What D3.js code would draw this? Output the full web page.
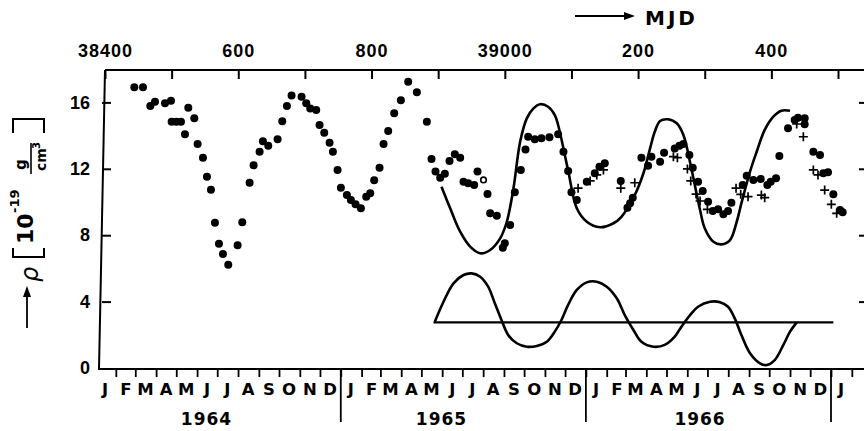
<!DOCTYPE html>
<html>
<head>
<meta charset="utf-8">
<script src="https://cdn.jsdelivr.net/npm/d3@7"></script>
<style>
	body { margin: 0; background: #fff; }
	svg { display: block; font-family: "DejaVu Sans", sans-serif; }
</style>
</head>
<body>
<svg id="chart" width="864" height="431"></svg>
<script>
/**
 * Data (MJD, density in 1e-19 g/cm3).
 */
var dotMjd = [38444, 38457, 38468, 38475, 38490, 38499, 38500, 38507, 38514, 38520, 38525, 38534, 38539, 38547, 38553, 38559, 38565, 38571, 38577, 38585, 38599, 38606, 38617, 38623, 38632, 38637, 38645, 38659, 38666, 38673, 38680, 38695, 38702, 38708, 38717, 38722, 38729, 38737, 38742, 38749, 38754, 38763, 38769, 38776, 38784, 38792, 38798, 38804, 38812, 38818, 38825, 38834, 38844, 38855, 38868, 38883, 38890, 38896, 38903, 38910, 38917, 38925, 38933, 38938, 38945, 38954, 38959, 38974, 38978, 38988, 38997, 39000, 39008, 39015, 39024, 39031, 39035, 39045, 39055, 39067, 39080, 39088, 39095, 39100, 39108, 39123, 39135, 39142, 39150, 39174, 39184, 39188, 39192, 39205, 39215, 39220, 39233, 39239, 39255, 39262, 39268, 39277, 39282, 39290, 39297, 39305, 39312, 39320, 39328, 39335, 39340, 39357, 39363, 39373, 39384, 39394, 39399, 39407, 39412, 39425, 39435, 39440, 39450, 39450, 39463, 39473, 39478, 39485, 39493, 39503, 39507];
var dotRho = [16.91, 16.91, 15.78, 16.04, 15.95, 16.10, 14.84, 14.84, 14.84, 14.08, 15.68, 15.04, 13.49, 12.67, 11.52, 10.74, 8.75, 7.49, 6.87, 6.22, 7.39, 8.78, 11.16, 12.21, 13.03, 13.66, 13.39, 13.78, 14.86, 15.78, 16.42, 16.34, 15.95, 15.64, 15.54, 14.64, 14.17, 13.57, 13.03, 11.93, 10.86, 10.42, 10.12, 9.86, 9.62, 10.32, 10.52, 11.31, 12.07, 13.49, 14.28, 15.34, 16.13, 17.25, 16.61, 14.84, 12.59, 11.83, 11.46, 11.70, 12.47, 12.87, 12.67, 11.22, 11.13, 11.02, 11.83, 10.48, 9.32, 9.17, 7.25, 7.51, 8.61, 10.58, 11.93, 13.17, 13.93, 13.78, 13.84, 13.90, 14.08, 13.03, 11.87, 10.58, 10.12, 11.22, 11.73, 12.13, 12.33, 11.27, 9.66, 9.92, 10.26, 12.67, 12.19, 12.73, 12.43, 12.97, 13.23, 13.39, 13.49, 12.83, 12.07, 11.22, 10.66, 10.02, 9.46, 9.56, 9.26, 9.46, 9.96, 11.02, 11.58, 11.33, 11.39, 11.02, 11.22, 11.43, 12.77, 14.44, 14.94, 15.08, 15.04, 14.68, 13.03, 12.83, 11.73, 11.79, 10.46, 9.52, 9.38];

var crossMjd = [39110, 39128, 39138, 39148, 39174, 39195, 39253, 39259, 39274, 39279, 39287, 39293, 39304, 39347, 39354, 39365, 39385, 39390, 39438, 39448, 39463, 39470, 39480, 39490, 39498];
var crossRho = [10.83, 11.27, 11.63, 11.93, 10.83, 11.16, 12.73, 12.67, 11.99, 11.27, 10.48, 10.06, 9.56, 10.83, 10.46, 10.32, 10.42, 10.26, 14.70, 13.93, 11.93, 11.63, 10.72, 9.86, 9.32];

var openMjd = [38968];
var openRho = [11.33];

// model curve
var modelMjd = [38905, 38918, 38933, 38948, 38963, 38978, 38993, 39003, 39013, 39023, 39033, 39043, 39053, 39065, 39075, 39080, 39095, 39108, 39123, 39143, 39163, 39175, 39195, 39208, 39218, 39225, 39233, 39245, 39258, 39268, 39280, 39293, 39300, 39313, 39325, 39338, 39348, 39355, 39368, 39378, 39390, 39403, 39415, 39428];
var modelRho = [10.92, 9.62, 8.21, 7.31, 6.91, 7.11, 7.81, 8.81, 10.83, 13.63, 15.04, 15.64, 15.89, 15.74, 15.24, 14.64, 11.9, 9.62, 8.81, 8.48, 8.72, 9.11, 10.42, 11.73, 13.23, 14.23, 14.88, 14.98, 14.74, 14.04, 12.0, 9.52, 8.42, 7.61, 7.45, 7.71, 8.81, 9.92, 11.83, 13.03, 14.34, 15.14, 15.5, 15.5];

// difference curve and its zero line
var diffMjd = [38895, 38908, 38923, 38938, 38950, 38963, 38975, 38985, 38995, 39005, 39018, 39033, 39048, 39063, 39075, 39085, 39095, 39108, 39123, 39138, 39153, 39168, 39180, 39193, 39205, 39223, 39240, 39255, 39265, 39278, 39290, 39308, 39323, 39335, 39345, 39355, 39368, 39383, 39393, 39405, 39418, 39428, 39438];
var diffRho = [2.79, 3.99, 5.10, 5.60, 5.70, 5.50, 4.90, 3.90, 2.89, 1.99, 1.49, 1.28, 1.33, 1.58, 2.19, 2.89, 3.80, 4.70, 5.16, 5.20, 4.90, 4.20, 3.19, 2.29, 1.58, 1.28, 1.39, 1.89, 2.49, 3.19, 3.69, 3.99, 3.96, 3.69, 2.99, 1.99, 0.89, 0.28, 0.18, 0.48, 1.39, 2.19, 2.75];
var baseMjd = [38893, 39493];
var baseRho = [2.75, 2.75];

// axes
var mjdTicks = [38400, 38500, 38600, 38700, 38800, 38900, 39000, 39100, 39200, 39300, 39400, 39500];
var mjdLabelValues = [38400, 38600, 38800, 39000, 39200, 39400];
var mjdLabelText = ["38400", "600", "800", "39000", "200", "400"];
var rhoTicks = [0, 4, 8, 12, 16];
var monthLetters = ["J", "F", "M", "A", "M", "J", "J", "A", "S", "O", "N", "D"];
var years = ["1964", "1965", "1966"];
var yearLabelDates = ["1964-06-15", "1965-05-31", "1966-06-20"];

{
	var svg = d3.select("#chart");

	var x = d3.scaleLinear().domain([38400, 39500]).range([105, 838]);
	var y = d3.scaleLinear().domain([0, 16]).range([368, 102.4]);
	var t = d3.scaleUtc()
		.domain([Date.UTC(1964, 0, 1), Date.UTC(1967, 0, 1)])
		.range([95, 831]);

	var ink = "#000";

	// frame lines
	svg.append("line").attr("x1", 105).attr("y1", 70).attr("x2", 864).attr("y2", 70)
		.attr("stroke", ink).attr("stroke-width", 2);
	svg.append("line").attr("x1", 105).attr("y1", 70).attr("x2", 99).attr("y2", 369)
		.attr("stroke", ink).attr("stroke-width", 2);
	svg.append("line").attr("x1", 98).attr("y1", 369).attr("x2", 864).attr("y2", 369)
		.attr("stroke", ink).attr("stroke-width", 2);

	// top MJD axis
	var topAxis = d3.axisTop(x)
		.tickValues(mjdTicks)
		.tickSizeInner(-9)
		.tickSizeOuter(0)
		.tickPadding(13)
		.tickFormat(function (d) {
			var i = mjdLabelValues.indexOf(d);
			return i < 0 ? "" : mjdLabelText[i];
		});
	var gTop = svg.append("g").attr("transform", "translate(0,70)").call(topAxis);
	gTop.select(".domain").remove();
	gTop.selectAll(".tick line").attr("stroke", ink).attr("stroke-width", 2);
	gTop.selectAll(".tick text")
		.attr("fill", ink)
		.style("font-size", "18px")
		.style("font-weight", "bold")
		.style("letter-spacing", "1px")
		.attr("font-family", null);

	// left rho axis
	var leftAxis = d3.axisLeft(y)
		.tickValues(rhoTicks)
		.tickSizeInner(-9)
		.tickSizeOuter(0)
		.tickPadding(12)
		.tickFormat(d3.format("d"));
	var gLeft = svg.append("g").attr("transform", "translate(102,0)").call(leftAxis);
	gLeft.select(".domain").remove();
	gLeft.selectAll(".tick line").attr("stroke", ink).attr("stroke-width", 2);
	gLeft.selectAll(".tick text")
		.attr("fill", ink)
		.style("font-size", "18px")
		.style("font-weight", "bold")
		.attr("font-family", null);
	gLeft.selectAll(".tick").filter(function (d) { return d === 0; }).select("line").remove();

	// right ticks (axis line itself is just off the page)
	var rightAxis = d3.axisRight(y)
		.tickValues(rhoTicks.slice(1))
		.tickSizeInner(-7)
		.tickSizeOuter(0)
		.tickFormat("");
	var gRight = svg.append("g").attr("transform", "translate(866,0)").call(rightAxis);
	gRight.select(".domain").remove();
	gRight.selectAll(".tick line").attr("stroke", ink).attr("stroke-width", 2);

	// bottom calendar axis: month ticks, month letters, year separators
	var monthTicks = d3.utcMonth.range(Date.UTC(1964, 1, 1), Date.UTC(1967, 1, 2));
	var bottomAxis = d3.axisBottom(t)
		.tickValues(monthTicks)
		.tickSizeInner(8)
		.tickSizeOuter(0)
		.tickFormat("");
	var gBottom = svg.append("g").attr("transform", "translate(0,369)").call(bottomAxis);
	gBottom.select(".domain").remove();
	gBottom.selectAll(".tick line").attr("stroke", ink).attr("stroke-width", 1.8);

	var months = d3.utcMonth.range(Date.UTC(1964, 0, 1), Date.UTC(1967, 0, 2));
	svg.append("g").selectAll("text")
		.data(months)
		.join("text")
		.attr("x", function (d) {
			return t(new Date(d.getTime() + 15 * 864e5));
		})
		.attr("y", 395)
		.attr("text-anchor", "middle")
		.style("font-size", "16.5px")
		.style("font-weight", "bold")
		.text(function (d) {
			return monthLetters[d.getUTCMonth()];
		});

	var yearStarts = [Date.UTC(1965, 0, 1), Date.UTC(1966, 0, 1), Date.UTC(1967, 0, 1)];
	svg.append("g").selectAll("line")
		.data(yearStarts)
		.join("line")
		.attr("x1", function (d) { return t(d); })
		.attr("x2", function (d) { return t(d); })
		.attr("y1", 369)
		.attr("y2", 422)
		.attr("stroke", ink)
		.attr("stroke-width", 1.8);

	svg.append("g").selectAll("text")
		.data(years)
		.join("text")
		.attr("x", function (d, i) { return t(new Date(yearLabelDates[i] + "T00:00:00Z")); })
		.attr("y", 425)
		.attr("text-anchor", "middle")
		.style("font-size", "17px")
		.style("font-weight", "bold")
		.style("letter-spacing", "1px")
		.text(function (d) { return d; });

	// MJD arrow title
	svg.append("line").attr("x1", 575).attr("y1", 16).attr("x2", 626).attr("y2", 16)
		.attr("stroke", ink).attr("stroke-width", 1.8);
	svg.append("path").attr("d", "M635,16L624,12L624,20Z").attr("fill", ink);
	svg.append("text").attr("x", 645).attr("y", 25)
		.style("font-size", "20px").style("font-weight", "bold").style("letter-spacing", "3px")
		.text("MJD");

	// y axis label, rotated, built piece by piece
	svg.append("line").attr("x1", 27).attr("y1", 328).attr("x2", 27).attr("y2", 294)
		.attr("stroke", ink).attr("stroke-width", 1.8);
	svg.append("path").attr("d", "M27,286L23,297L31,297Z").attr("fill", ink);

	var lab = svg.append("g").attr("transform", "rotate(-90)");
	lab.append("text").attr("x", -282).attr("y", 38)
		.style("font-size", "24px").style("font-style", "italic")
		.text("ρ");
	lab.append("text").attr("x", -244).attr("y", 33)
		.style("font-size", "22px").style("font-weight", "bold")
		.text("10");
	lab.append("text").attr("x", -213).attr("y", 19)
		.style("font-size", "13px").style("font-weight", "bold")
		.text("-19");
	lab.append("text").attr("x", -170).attr("y", 26)
		.style("font-size", "15px").style("font-weight", "bold")
		.text("g");
	lab.append("text").attr("x", -171).attr("y", 46)
		.style("font-size", "14px").style("font-weight", "bold")
		.text("cm");
	lab.append("text").attr("x", -149).attr("y", 40)
		.style("font-size", "10px").style("font-weight", "bold")
		.text("3");
	svg.append("line").attr("x1", 31).attr("y1", 143).attr("x2", 31).attr("y2", 174)
		.attr("stroke", ink).attr("stroke-width", 1.6);
	svg.append("path").attr("d", "M13,248L13,257L44,257L44,248")
		.attr("fill", "none").attr("stroke", ink).attr("stroke-width", 2);
	svg.append("path").attr("d", "M13,133L13,119L44,119L44,133")
		.attr("fill", "none").attr("stroke", ink).attr("stroke-width", 2);

	// curves
	var line = d3.line()
		.x(function (d) { return x(d[0]); })
		.y(function (d) { return y(d[1]); })
		.curve(d3.curveCatmullRom.alpha(0.5));

	svg.append("path")
		.datum(d3.zip(modelMjd, modelRho))
		.attr("d", line)
		.attr("fill", "none").attr("stroke", ink).attr("stroke-width", 2.6);

	svg.append("path")
		.datum(d3.zip(diffMjd, diffRho))
		.attr("d", line)
		.attr("fill", "none").attr("stroke", ink).attr("stroke-width", 2.6);

	svg.append("path")
		.datum(d3.zip(baseMjd, baseRho))
		.attr("d", d3.line().x(function (d) { return x(d[0]); }).y(function (d) { return y(d[1]); }))
		.attr("fill", "none").attr("stroke", ink).attr("stroke-width", 2.4);

	// observations
	svg.append("g").selectAll("circle")
		.data(d3.zip(dotMjd, dotRho))
		.join("circle")
		.attr("cx", function (d) { return x(d[0]); })
		.attr("cy", function (d) { return y(d[1]); })
		.attr("r", 4)
		.attr("fill", ink);

	svg.append("g").selectAll("path")
		.data(d3.zip(crossMjd, crossRho))
		.join("path")
		.attr("transform", function (d) {
			return "translate(" + x(d[0]) + "," + y(d[1]) + ")";
		})
		.attr("d", "M-4.5,0H4.5M0,-4.5V4.5")
		.attr("stroke", ink)
		.attr("stroke-width", 1.7);

	svg.append("g").selectAll("circle")
		.data(d3.zip(openMjd, openRho))
		.join("circle")
		.attr("cx", function (d) { return x(d[0]); })
		.attr("cy", function (d) { return y(d[1]); })
		.attr("r", 2.8)
		.attr("fill", "#fff")
		.attr("stroke", ink)
		.attr("stroke-width", 1.6);
}
</script>
</body>
</html>
